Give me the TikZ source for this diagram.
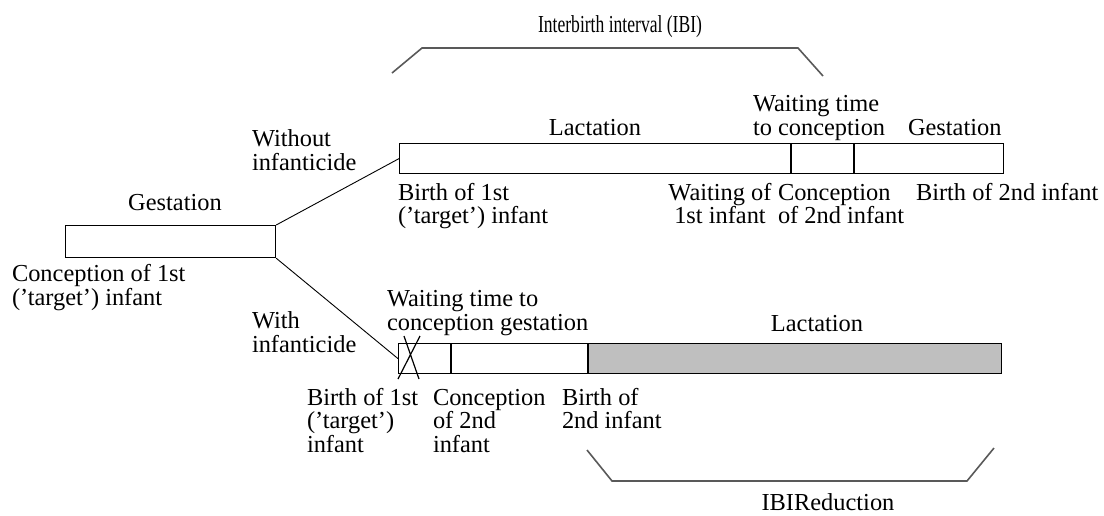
\documentclass[tikz,border=0pt]{standalone}
\usepackage{fontspec}
\setmainfont{Liberation Serif}
\begin{document}
\begin{tikzpicture}[x=0.5pt,y=-0.5pt,
  lbl/.style={inner sep=0pt,outer sep=0pt,align=left,anchor=base west,font=\fontsize{12.2pt}{11.75pt}\selectfont},
  lblc/.style={lbl,align=center,anchor=base},
  bar/.style={draw,line width=0.6pt,inner sep=0pt,anchor=north west},
  divider/.style={line width=0.6pt},
  conn/.style={draw,line width=0.45pt},
  brk/.style={draw=black!65,line width=0.8pt}]
\useasboundingbox (0,0) rectangle (1104,515);
% boxes
\node[bar,minimum width=105pt,minimum height=16pt] (gest) at (65,225) {};
\node[bar,minimum width=302pt,minimum height=15pt] (top) at (399,143) {};
\coordinate (b2) at (588,343); \coordinate (b3) at (1001,373);
\fill[black!25] (b2) rectangle (b3);
\node[bar,minimum width=301.5pt,minimum height=15pt] (bot) at (398,343) {};
% top bar dividers
\coordinate (t1) at (791,143); \coordinate (t1b) at (791,173);
\coordinate (t2) at (854,143); \coordinate (t2b) at (854,173);
\draw[divider] (t1) -- (t1b) (t2) -- (t2b);
% bottom bar dividers
\coordinate (b1) at (451,343); \coordinate (b1b) at (451,373);
\coordinate (b2b) at (588,373);
\draw[divider] (b1) -- (b1b) (b2) -- (b2b);
% cross
\coordinate (x1) at (404,336); \coordinate (x2) at (419,379);
\coordinate (x3) at (420,336); \coordinate (x4) at (398,379);
\draw[divider] (x1) -- (x2) (x3) -- (x4);
% connectors
\draw[conn] (gest.north east) -- (top.west);
\draw[conn] (gest.south east) -- (bot.west);
% brackets
\coordinate (a1) at (392,73); \coordinate (a2) at (422,48); \coordinate (a3) at (798,48); \coordinate (a4) at (823,76);
\draw[brk] (a1) -- (a2) -- (a3) -- (a4);
\coordinate (c1) at (587,450); \coordinate (c2) at (612,481); \coordinate (c3) at (967,481); \coordinate (c4) at (994,448);
\draw[brk] (c1) -- (c2) -- (c3) -- (c4);
% labels
\node[lblc] (ibi) at (620,32) {\scalebox{0.72}[1]{Interbirth interval (IBI)}};
\node[lblc] (ibir) at (828,510) {IBIReduction};
\node[lblc] (lgest) at (175,210) {Gestation};
\node[lbl] (lconc) at (12,305) {Conception of 1st\\('target') infant};
\node[lbl] (lwo) at (252,170) {Without\\infanticide};
\node[lbl] (lw) at (252,352) {With\\infanticide};
\node[lblc] (llac1) at (595,135) {Lactation};
\node[lbl] (lwait1) at (753,135) {Waiting time\\to conception};
\node[lbl] (lgest2) at (908,135) {Gestation};
\node[lbl] (lb1) at (398,223.5) {Birth of 1st\\('target') infant};
\node[lblc] (lwof) at (720,223.5) {Waiting of\\1st infant};
\node[lbl] (lc2) at (778,223.5) {Conception\\of 2nd infant};
\node[lbl] (lb2) at (916,200) {Birth of 2nd infant};
\node[lbl] (lwait2) at (387,330) {Waiting time to\\conception gestation};
\node[lblc] (llac2) at (817,331) {Lactation};
\node[lbl] (lb1b) at (307,452) {Birth of 1st\\('target')\\infant};
\node[lbl] (lc2b) at (433,452) {Conception\\of 2nd\\infant};
\node[lbl] (lb2b) at (562,428.5) {Birth of\\2nd infant};
\end{tikzpicture}
\end{document}
